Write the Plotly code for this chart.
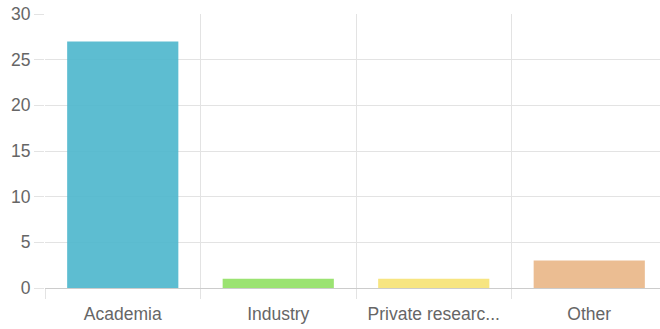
import plotly.graph_objects as go

categories = ["Academia", "Industry", "Private researc...", "Other"]
values = [27, 1, 1, 3]
colors = ["rgba(75,182,204,0.9)", "rgba(150,226,106,0.95)", "rgba(247,228,122,0.95)", "rgba(234,185,140,0.95)"]
y_ticks = [0, 5, 10, 15, 20, 25, 30]

xs = list(range(len(categories)))
grid = "#e3e3e3"
font = dict(family="Liberation Sans, Arial, sans-serif", size=17.5, color="#666666")

fig = go.Figure()
fig.add_trace(go.Bar(
    x=xs, y=values, marker=dict(color=colors, line=dict(width=0)),
    width=0.715, xaxis="x", yaxis="y", hoverinfo="skip",
))

x_end = len(categories) - 0.5 - 7 / 155.5
fig.update_layout(
    width=660, height=329,
    margin=dict(l=45, r=0, t=14, b=41, autoexpand=False),
    paper_bgcolor="white", plot_bgcolor="white",
    showlegend=False, font=font,
    xaxis=dict(
        range=[-0.5, x_end], tickvals=[i - 0.5 for i in xs], showticklabels=False,
        showgrid=True, gridcolor=grid, gridwidth=1, automargin=False,
        ticks="outside", ticklen=10, tickcolor=grid, zeroline=False,
        showline=True, linecolor="#cccccc", linewidth=1,
    ),
    xaxis2=dict(
        range=[-0.5, x_end], overlaying="x", side="bottom", automargin=False,
        tickvals=xs, ticktext=categories, showgrid=False, ticks="outside",
        ticklen=10, tickcolor="rgba(0,0,0,0)", zeroline=False, showline=False,
        tickfont=font, ticklabeloverflow="allow",
    ),
    yaxis=dict(
        range=[0, 30], tickvals=y_ticks, showgrid=True, gridcolor=grid, gridwidth=1,
        ticks="outside", ticklen=10, tickcolor=grid, zeroline=False, automargin=False,
        showline=False, tickfont=font, ticklabeloverflow="allow",
    ),
)
fig.add_trace(go.Scatter(x=[0], y=[0], xaxis="x2", yaxis="y", mode="markers",
                         marker=dict(opacity=0), hoverinfo="skip"))
fig.write_html("out.html", config={"displayModeBar": False, "staticPlot": True},
               post_script="document.body.style.margin='0';document.body.style.overflow='hidden';")
